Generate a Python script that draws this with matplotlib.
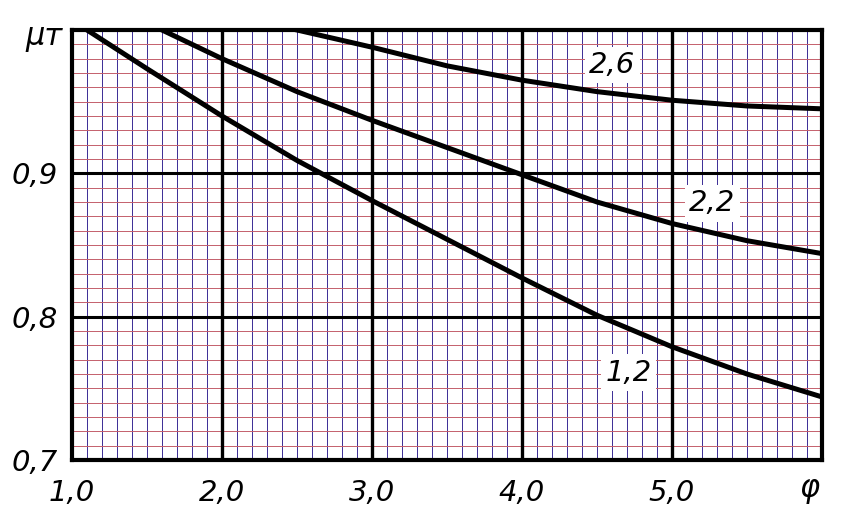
import numpy as np
import matplotlib
matplotlib.use('Agg')
import matplotlib.pyplot as plt

# curves (phi -> mu_T)
phi_12 = [1.1, 1.5, 2.0, 2.5, 3.0, 3.5, 4.0, 4.5, 5.0, 5.5, 6.0]
mu_12 = [1.0, 0.973, 0.940, 0.909, 0.881, 0.854, 0.827, 0.801, 0.779, 0.760, 0.744]

phi_22 = [1.6, 2.0, 2.5, 3.0, 3.5, 4.0, 4.5, 5.0, 5.5, 6.0]
mu_22 = [1.0, 0.980, 0.957, 0.937, 0.918, 0.899, 0.880, 0.865, 0.853, 0.844]

phi_26 = [2.5, 3.0, 3.5, 4.0, 4.5, 5.0, 5.5, 6.0]
mu_26 = [1.0, 0.988, 0.975, 0.965, 0.957, 0.951, 0.947, 0.945]

x_ticks = [1.0, 2.0, 3.0, 4.0, 5.0]
x_labels = ['1,0', '2,0', '3,0', '4,0', '5,0']
y_ticks = [0.7, 0.8, 0.9]
y_labels = ['0,7', '0,8', '0,9']

curve_labels = ['1,2', '2,2', '2,6']
label_pos = [(4.71, 0.761), (5.27, 0.879), (4.60, 0.9755)]

fig = plt.figure(figsize=(8.55, 5.21), dpi=100)
ax = fig.add_axes([72 / 855, 1 - 460 / 521, 750 / 855, 430 / 521])
ax.set_xlim(1.0, 6.0)
ax.set_ylim(0.7, 1.0)

# graph paper
for x in np.arange(1.1, 6.0, 0.1):
    ax.axvline(x, color='#3b2c95', lw=0.7, zorder=1)
for y in np.arange(0.71, 1.0, 0.01):
    ax.axhline(y, color='#c4606c', lw=0.7, zorder=1)
for x in [2.0, 3.0, 4.0, 5.0]:
    ax.axvline(x, color='black', lw=2.4, zorder=2)
for y in [0.8, 0.9]:
    ax.axhline(y, color='black', lw=2.2, zorder=2)

for px, py in [(phi_12, mu_12), (phi_22, mu_22), (phi_26, mu_26)]:
    ax.plot(px, py, color='black', lw=3.6, solid_joinstyle='round', zorder=3)

for lab, (lx, ly) in zip(curve_labels, label_pos):
    ax.text(lx, ly, lab, fontsize=21, style='italic', ha='center', va='center',
            zorder=4, bbox=dict(boxstyle='square,pad=0.15', fc='white', ec='none'))

for s in ax.spines.values():
    s.set_linewidth(3)
    s.set_zorder(5)

ax.set_xticks(x_ticks)
ax.set_xticklabels(x_labels, fontsize=21, style='italic')
ax.set_yticks(y_ticks)
ax.set_yticklabels(y_labels, fontsize=21, style='italic')
ax.tick_params(length=0)
ax.tick_params(axis='x', pad=14)
ax.tick_params(axis='y', pad=10)

fig.text(810 / 855, 1 - 490 / 521, 'φ', fontsize=22, style='italic', ha='center', va='center')
fig.text(44 / 855, 1 - 38 / 521, 'μт', fontsize=22, style='italic', ha='center', va='center')

fig.savefig('out.png', dpi=100)
